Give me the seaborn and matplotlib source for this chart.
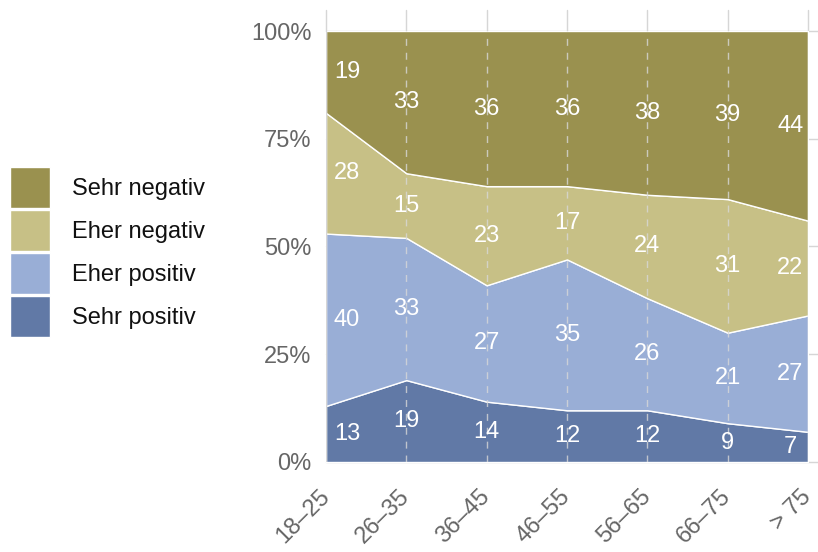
import matplotlib
matplotlib.use('Agg')
import matplotlib.pyplot as plt
import numpy as np
import seaborn as sns

sns.set_style("white")
plt.rcParams['font.family'] = ['Liberation Sans', 'DejaVu Sans']

categories = ["18–25", "26–35", "36–45", "46–55", "56–65", "66–75", "> 75"]
series_names = ["Sehr positiv", "Eher positiv", "Eher negativ", "Sehr negativ"]
sehr_positiv = [13, 19, 14, 12, 12, 9, 7]
eher_positiv = [40, 33, 27, 35, 26, 21, 27]
eher_negativ = [28, 15, 23, 17, 24, 31, 22]
sehr_negativ = [19, 33, 36, 36, 38, 39, 44]
colors = ["#6179a6", "#99aed6", "#c7c086", "#9a914f"]

values = np.array([sehr_positiv, eher_positiv, eher_negativ, sehr_negativ], dtype=float)
x = np.arange(len(categories))

fig = plt.figure(figsize=(8.18, 5.52), dpi=100)
ax = fig.add_axes([326 / 818, 1 - 462 / 552, 482 / 818, 431 / 552])

grid_c = "#d6d6d6"
# background grid, extending a little outside the axes
for yv in [0, 25, 50, 75, 100]:
    ax.axhline(yv, xmin=0, xmax=1.02, color=grid_c, lw=1, zorder=0, clip_on=False)
for xv in x:
    ax.axvline(xv, ymin=1, ymax=1.049, color=grid_c, lw=1, zorder=0, clip_on=False)

polys = ax.stackplot(x, values, colors=colors, labels=series_names,
                     edgecolor="white", linewidth=1, zorder=2)

# dashed category lines over the areas
for xv in x[1:-1]:
    ax.axvline(xv, color="#d8d8d8", lw=1, dashes=(5, 5), alpha=0.8, zorder=3)
for xv in [x[0], x[-1]]:
    ax.axvline(xv, color=grid_c, lw=1, zorder=3)

# value labels in the middle of each band
cum = np.cumsum(values, axis=0)
for i in range(values.shape[0]):
    for j in range(values.shape[1]):
        mid = cum[i, j] - values[i, j] / 2
        xo = x[j]
        if j == 0:
            xo += 0.26
        elif j == len(x) - 1:
            xo -= 0.22
        ax.text(xo, mid, f"{int(values[i, j])}", ha="center", va="center",
                color="white", fontsize=17, zorder=4)

ax.set_xlim(x[0], x[-1])
ax.set_ylim(0, 100)
ax.set_yticks([0, 25, 50, 75, 100])
ax.set_yticklabels(["0%", "25%", "50%", "75%", "100%"])
ax.set_xticks(x)
ax.set_xticklabels(categories, rotation=45, ha="right", va="center",
                   rotation_mode="anchor")
ax.tick_params(axis="x", length=14.5, width=1, color=grid_c, labelsize=17,
               labelcolor="#666666", pad=8)
ax.tick_params(axis="y", length=4.5, width=1, color=grid_c, labelsize=17,
               labelcolor="#666666", pad=6)
for s in ax.spines.values():
    s.set_visible(False)

handles, labels = ax.get_legend_handles_labels()
leg = fig.legend(handles[::-1], labels[::-1], loc="center left",
                 bbox_to_anchor=(0.012, 0.543), frameon=False, fontsize=17,
                 handlelength=1.7, handleheight=2.3, labelspacing=0.08,
                 handletextpad=0.95, borderaxespad=0, borderpad=0)
for t in leg.get_texts():
    t.set_color("#111111")

fig.savefig("out.png", dpi=100)
